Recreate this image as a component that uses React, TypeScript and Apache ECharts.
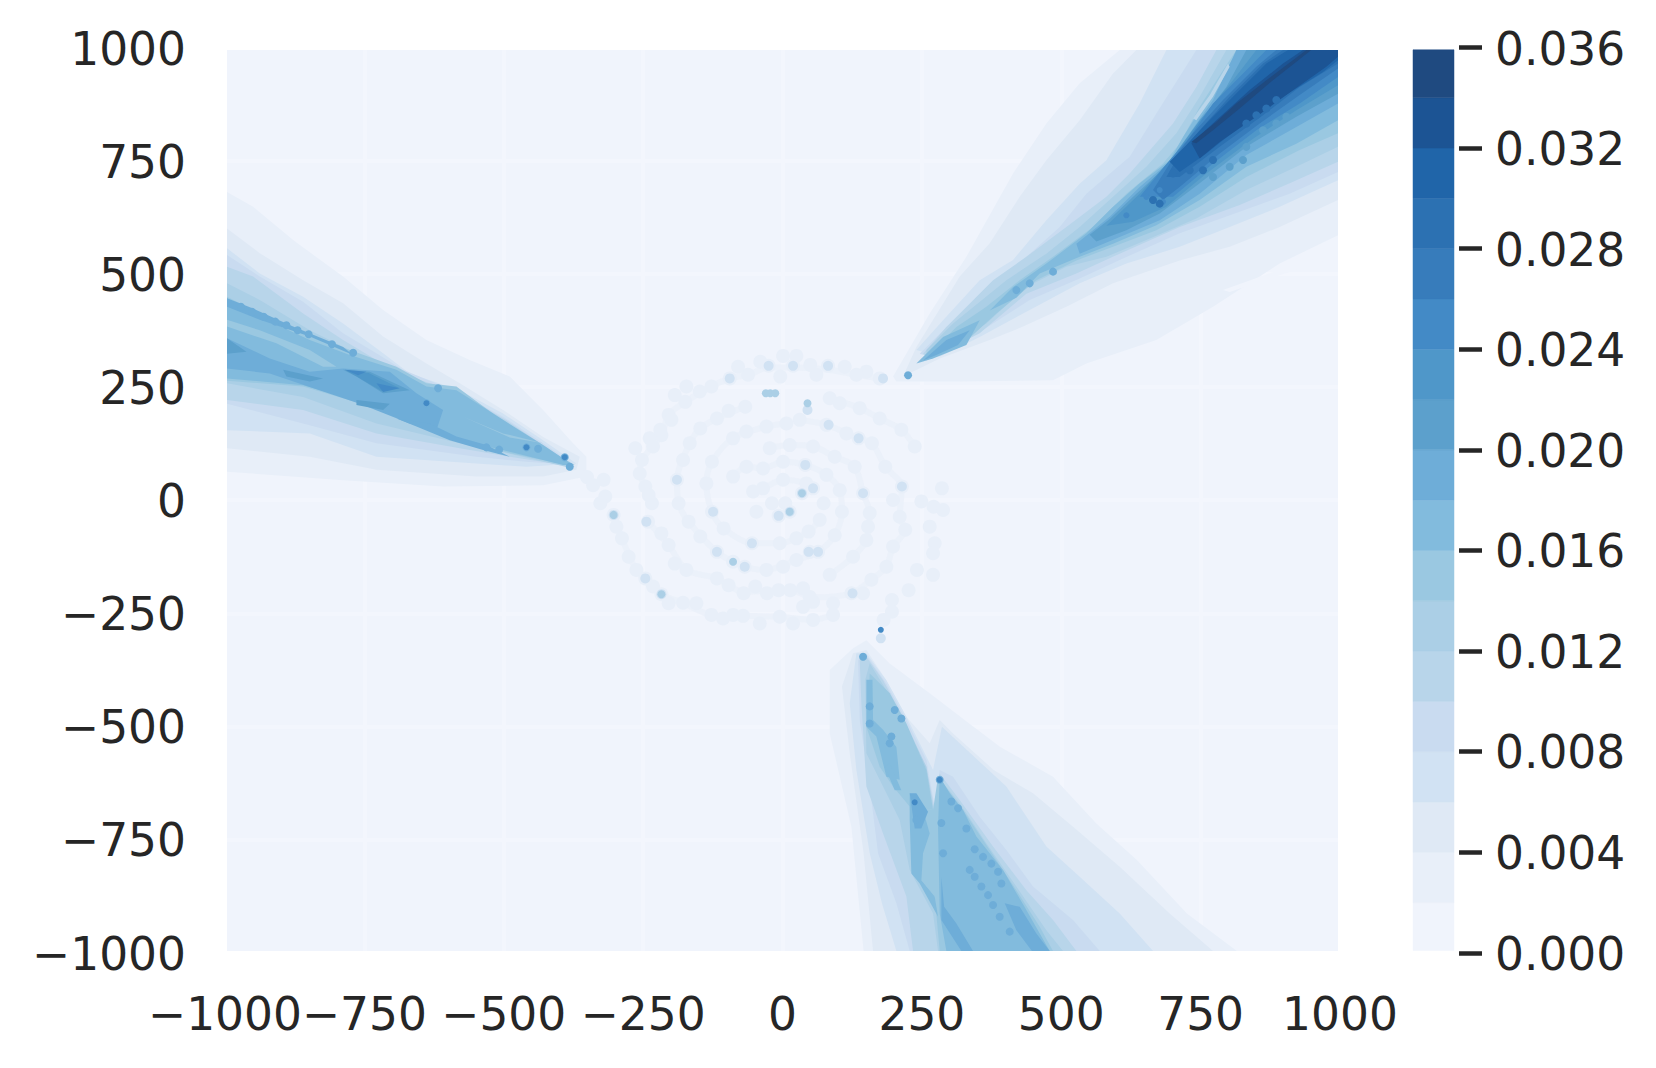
import React, { useEffect, useRef } from "react";
import * as echarts from "echarts";

type Pt = [number, number];

const axisTicks = [-1000, -750, -500, -250, 0, 250, 500, 750, 1000];
const barTicks = [0, 0.004, 0.008, 0.012, 0.016, 0.02, 0.024, 0.028, 0.032, 0.036];
const barEdges = [0.0001, 0.002, 0.004, 0.006, 0.008, 0.01, 0.012, 0.014, 0.016, 0.018, 0.02, 0.022, 0.024, 0.026, 0.028, 0.03, 0.032, 0.034, 0.0359];
const levelColors = ["#f0f4fc", "#e8eff9", "#dfe9f5", "#d1e2f3", "#c9dbf0", "#b8d5ea", "#abcfe6", "#9ac8e1", "#82bbdd", "#6eadd8", "#5ca0cc", "#4f97c9", "#438ac6", "#377cbb", "#2c71b2", "#2065a9", "#1c5494", "#1f4a80"];

// contour regions, value units of the two axes; each list is "value above that level"
const band1: Pt[][] = [
  [[199,275],[265,415],[331,541],[415,726],[475,837],[535,926],[607,1000],[1000,1000],[1000,589],[895,526],[775,430],[673,356],[547,304],[487,267],[319,264],[205,264]],
  [[-1000,685],[-953,652],[-881,578],[-791,497],[-719,423],[-641,356],[-563,312],[-491,275],[-431,201],[-377,127],[-353,97],[-353,53],[-431,34],[-611,31],[-791,45],[-1000,64]],
  [[146,-1000],[818,-1000],[728,-917],[638,-798],[565,-717],[487,-613],[392,-547],[332,-491],[265,-428],[193,-362],[151,-310],[127,-328],[85,-376],[85,-517],[124,-724]],
];
const gap0: Pt[][] = [
  [[793,467],[895,512],[1000,552],[1000,541],[895,500],[805,463]],
];
const band2: Pt[][] = [
  [[241,341],[319,497],[373,571],[427,674],[475,755],[535,844],[595,948],[637,1000],[1000,1000],[1000,667],[895,607],[805,563],[715,533],[595,482],[511,430],[433,386],[373,356],[283,315],[217,275]],
  [[-1000,604],[-941,549],[-863,489],[-791,438],[-719,364],[-641,304],[-581,260],[-503,201],[-431,141],[-365,97],[-371,68],[-431,53],[-551,53],[-731,68],[-851,97],[-1000,116]],
  [[127,-339],[107,-413],[121,-561],[146,-783],[163,-1000],[775,-1000],[697,-917],[607,-813],[523,-724],[451,-650],[380,-598],[307,-517],[283,-487],[265,-539],[223,-480],[187,-399],[151,-332]],
];
const band3: Pt[][] = [
  [[241,334],[289,400],[355,489],[415,534],[475,622],[535,703],[583,755],[643,881],[691,1000],[1000,1000],[1000,711],[895,652],[805,607],[715,563],[619,526],[535,482],[445,423],[355,363],[283,319]],
  [[-1000,560],[-941,504],[-863,452],[-791,393],[-719,327],[-671,282],[-581,245],[-503,193],[-431,134],[-371,82],[-461,75],[-551,82],[-731,97],[-851,149],[-1000,156]],
  [[133,-339],[121,-450],[133,-598],[157,-783],[179,-894],[205,-1000],[667,-1000],[607,-917],[535,-835],[475,-768],[403,-635],[319,-539],[287,-502],[271,-598],[247,-539],[223,-480],[187,-399],[151,-339]],
];
const band4: Pt[][] = [
  [[247,326],[295,385],[379,474],[433,534],[499,607],[547,681],[625,763],[673,859],[715,941],[745,1000],[1000,1000],[1000,729],[913,681],[823,641],[715,593],[607,534],[535,493],[445,445],[355,374],[265,319]],
  [[-1000,545],[-941,497],[-863,441],[-791,371],[-731,327],[-683,290],[-581,238],[-503,186],[-431,127],[-374,79],[-461,86],[-551,97],[-731,127],[-863,171],[-1000,215]],
  [[571,-1000],[523,-931],[451,-857],[403,-776],[355,-702],[307,-613],[283,-598],[274,-680],[259,-576],[223,-487],[187,-406],[151,-343],[136,-354],[139,-487],[157,-635],[172,-783],[205,-894],[229,-1000]],
];
const band5: Pt[][] = [
  [[253,326],[295,385],[379,489],[439,541],[511,607],[583,674],[625,726],[703,837],[745,918],[781,1000],[1000,1000],[1000,752],[913,704],[823,656],[715,607],[607,548],[529,504],[439,459],[355,371],[265,315]],
  [[-1000,519],[-953,497],[-863,415],[-791,356],[-731,312],[-671,275],[-581,238],[-497,178],[-431,123],[-374,75],[-491,97],[-581,116],[-731,149],[-863,201],[-1000,223]],
  [[151,-347],[181,-399],[217,-480],[259,-591],[274,-687],[283,-606],[319,-665],[379,-768],[439,-865],[487,-931],[529,-1000],[235,-1000],[223,-879],[181,-739],[151,-635],[142,-450],[139,-354]],
];
const band6: Pt[][] = [
  [[259,334],[307,393],[403,489],[475,548],[535,607],[595,674],[655,741],[709,815],[751,896],[799,1000],[1000,1000],[1000,785],[925,741],[835,689],[745,626],[655,578],[583,541],[511,519],[439,474],[367,393],[295,341],[259,311]],
  [[-1000,482],[-941,445],[-851,378],[-779,334],[-707,297],[-659,260],[-581,230],[-497,171],[-431,116],[-377,71],[-491,104],[-581,127],[-731,171],[-863,230],[-1000,260]],
  [[157,-361],[187,-421],[217,-487],[259,-591],[274,-702],[280,-613],[319,-672],[367,-761],[421,-857],[475,-954],[505,-1000],[280,-1000],[271,-917],[229,-820],[211,-709],[175,-620],[151,-561],[149,-398]],
];
const band7: Pt[][] = [
  [[271,334],[313,385],[367,430],[427,489],[487,541],[559,607],[619,681],[685,748],[715,792],[751,874],[793,955],[817,1000],[1000,1000],[1000,815],[931,778],[835,718],[751,652],[673,600],[595,563],[529,533],[457,489],[385,415],[319,341],[259,315]],
  [[-1000,452],[-941,415],[-851,364],[-779,334],[-695,297],[-641,260],[-587,253],[-497,171],[-431,119],[-374,79],[-401,82],[-491,105],[-581,134],[-671,175],[-761,216],[-863,253],[-1000,266]],
  [[157,-384],[193,-428],[223,-495],[259,-598],[271,-687],[229,-679],[199,-635],[175,-591],[151,-502]],
  [[280,-613],[325,-687],[373,-776],[421,-865],[463,-946],[487,-1000],[283,-1000],[274,-879],[235,-820],[229,-679],[271,-687]],
];
const band8: Pt[][] = [
  [[373,422],[415,474],[475,526],[547,593],[595,652],[643,704],[697,755],[721,807],[763,889],[817,992],[820,1000],[1000,1000],[1000,844],[925,792],[835,741],[751,667],[673,611],[595,570],[535,541],[463,504],[421,450]],
  [[241,304],[289,363],[355,400],[331,345],[271,315]],
  [[-1000,449],[-941,408],[-851,356],[-779,323],[-695,290],[-641,253],[-587,245],[-503,179],[-431,123],[-377,79],[-395,79],[-491,108],[-593,138],[-671,179],[-761,219],[-863,256],[-1000,271]],
  [[283,-613],[301,-650],[325,-687],[349,-746],[397,-820],[439,-909],[481,-1000],[295,-1000],[283,-917],[280,-724]],
  [[229,-650],[253,-687],[265,-739],[253,-783],[250,-843],[274,-879],[280,-924],[247,-850],[232,-828],[229,-709]],
  [[151,-398],[162,-398],[163,-487],[181,-509],[205,-547],[211,-620],[187,-613],[169,-524],[151,-502]],
  [[193,-583],[214,-643],[202,-643],[184,-591]],
];
const gap7: Pt[][] = [
  [[-1000,401],[-941,378],[-851,334],[-803,297],[-827,297],[-911,349],[-1000,386]],
  [[-575,186],[-503,149],[-431,127],[-491,140]],
];
const band9: Pt[][] = [
  [[529,570],[589,630],[643,696],[697,752],[733,815],[775,889],[817,1000],[1000,1000],[1000,881],[925,829],[835,767],[751,681],[679,622],[607,585],[535,548]],
  [[253,311],[295,356],[337,378],[316,345],[277,323]],
  [[-1000,360],[-923,315],[-851,286],[-791,293],[-707,286],[-659,238],[-611,201],[-623,156],[-671,171],[-761,215],[-851,252],[-923,282],[-1000,293]],
  [[-695,182],[-635,171],[-587,142],[-533,123],[-491,97],[-539,112],[-599,134],[-659,164]],
  [[-1000,449],[-953,426],[-881,386],[-791,341],[-773,323],[-851,364],[-941,401],[-1000,430]],
  [[400,-894],[427,-902],[457,-961],[481,-1000],[449,-1000],[421,-954]],
  [[286,-835],[291,-902],[313,-939],[343,-1000],[322,-1000],[286,-931]],
  [[229,-650],[241,-650],[262,-691],[250,-728],[238,-728]],
];
const band10: Pt[][] = [
  [[553,590],[589,625],[637,681],[703,755],[745,830],[799,918],[835,1000],[1000,1000],[1000,903],[925,852],[835,785],[751,704],[679,637],[619,600],[565,575]],
  [[-1000,360],[-965,330],[-1000,326]],
  [[-899,290],[-827,271],[-851,264],[-893,275]],
  [[-791,290],[-743,286],[-671,245],[-719,238],[-767,275]],
  [[-767,223],[-707,215],[-719,201],[-767,212]],
];
const gap5: Pt[][] = [
  [[745,844],[775,896],[805,963],[802,970],[769,900],[739,848]],
];
const band11: Pt[][] = [
  [[583,610],[643,681],[703,763],[751,844],[811,933],[853,1000],[1000,1000],[1000,922],[925,866],[847,803],[763,726],[691,652],[631,619]],
  [[-785,288],[-745,283],[-690,250],[-722,243],[-765,274]],
];
const band12: Pt[][] = [
  [[643,674],[697,755],[733,807],[775,881],[835,955],[871,1000],[1000,1000],[1000,940],[931,881],[853,822],[775,748],[703,674]],
  [[-788,290],[-749,286],[-764,278]],
  [[-731,260],[-689,249],[-719,241]],
];
const band13: Pt[][] = [
  [[667,689],[697,748],[739,815],[793,889],[853,963],[889,1000],[1000,1000],[1000,959],[931,900],[859,837],[787,770],[715,696],[685,667]],
];
const band14: Pt[][] = [
  [[691,718],[715,770],[751,822],[805,896],[865,970],[901,1000],[1000,1000],[1000,970],[931,918],[865,855],[787,785],[715,718]],
];
const band15: Pt[][] = [
  [[697,752],[727,789],[763,837],[811,896],[871,970],[910,1000],[1000,1000],[1000,977],[973,951],[895,892],[823,829],[763,770],[715,729]],
];
const band16: Pt[][] = [
  [[736,793],[781,844],[841,911],[901,970],[937,1000],[1000,1000],[1000,985],[979,963],[907,900],[853,852],[787,796],[751,759]],
];
const band17: Pt[][] = [
  [[736,796],[781,841],[817,881],[871,933],[943,1000],[952,1000],[883,933],[823,870],[775,822],[745,793]],
];

// the spiral's arms
const arms: Pt[][] = [
  [[175,271],[133,279],[82,290],[19,295],[-25,295],[-62,279],[-95,271],[-128,253],[-175,219],[-205,190],[-218,145],[-253,90],[-257,60],[-247,31],[-235,-6]],
  [[31,179],[79,168],[137,138],[161,127],[185,75],[215,31],[211,-36],[221,-65],[199,-102],[187,-147],[160,-176],[124,-206],[55,-215],[14,-199],[-28,-200],[-70,-203],[-118,-173],[-173,-154],[-205,-99],[-242,-47]],
  [[-67,208],[-118,182],[-148,160],[-167,127],[-190,46],[-187,-6],[-169,-47],[-118,-114],[-68,-147],[-29,-154],[25,-132],[64,-114],[94,-77],[107,-25],[103,23],[79,57],[41,79],[1,86],[-35,71],[-65,75],[-89,53]],
  [[7,171],[-29,164],[-89,138],[-127,86],[-137,38],[-127,-25],[-106,-62],[-55,-95],[-5,-95],[47,-69],[67,-43]],
  [[-23,116],[13,123],[55,120],[94,97],[130,75],[145,16],[157,-28],[151,-88],[127,-125],[85,-165]],
  [[-304,-32],[-289,-84],[-263,-154],[-218,-208],[-179,-227],[-128,-254],[-71,-256],[-5,-258],[55,-265],[91,-254]],
  [[85,227],[139,205],[175,182],[214,157],[238,120]],
  [[-53,20],[-35,27],[1,46],[43,38],[55,27]],
];

// small speckles
const spiralFaint: Pt[] = [
  [175,271],[151,286],[133,279],[112,297],[82,299],[61,279],[50,301],[19,299],[-4,275],[-25,299],[-40,308],[1,321],[25,321],[-62,279],[-80,297],[-95,271],[-128,253],[-149,242],[-175,219],[-173,253],[-194,234],[-205,190],[-218,145],[-239,138],[-233,120],[-265,116],[-253,90],[-257,60],[-247,31],[-241,12],[-235,-6],[-200,179],[-220,157],
  [31,179],[79,168],[115,149],[137,138],[161,127],[185,75],[215,31],[199,1],[211,-36],[221,-65],[199,-102],[187,-147],[160,-176],[145,-206],[124,-206],[91,-228],[55,-225],[37,-236],[49,-214],[14,-199],[37,-195],[-7,-199],[-28,-206],[-49,-191],[-70,-206],[-97,-188],[-118,-173],[-173,-154],[-194,-140],[-205,-99],[-218,-73],[-242,-47],
  [-67,208],[-97,199],[-118,182],[-148,160],[-167,127],[-179,90],[-190,46],[-187,-6],[-169,-47],[-148,-80],[-118,-114],[-89,-136],[-68,-147],[-29,-154],[1,-147],[25,-132],[49,-114],[64,-114],[94,-77],[107,-25],[74,-6],[85,227],[103,216],[139,205],[175,182],[214,157],[238,120],[-89,138],[-65,153],[-29,164],[7,171],[-127,86],[-137,38],[-127,-25],[-106,-62],[-55,-95],[-5,-95],[25,-84],[47,-69],[67,-43],[-23,116],[13,123],[55,120],[94,97],[130,75],[145,16],[157,-28],[154,-58],[151,-88],[127,-125],[85,-165],
  [-89,53],[-65,75],[-35,71],[1,86],[41,79],[79,57],[103,23],[-47,-25],[-53,20],[-35,27],[1,46],[43,38],[55,27],[35,16],[-19,-6],[5,-6],[13,-25],[-7,-34],
  [-322,46],[-319,9],[-304,-32],[-299,-58],[-289,-84],[-277,-125],[-263,-154],[-247,-173],[-233,-191],[-218,-208],[-205,-228],[-179,-227],[-155,-228],[-128,-254],[-107,-262],[-71,-256],[-89,-254],[-41,-273],[-5,-258],[19,-273],[55,-265],[91,-254],
  [250,-2],[272,-14],[287,27],[289,-21],[265,-58],[274,-95],[271,-117],[242,-154],[271,-165],[227,-199],[197,-221],[197,-247],[182,-265],
  [-352,52],[-341,34],[-328,-6],
];
const spiralMid: Pt[] = [
  [-304,-32],[-245,-47],[-247,-173],[-218,-208],[-125,-25],[-118,-114],[-55,-95],[13,-25],[35,16],[145,16],[215,31],[126,-206],[-25,299],[19,299],[82,299],[-95,271],[137,138],[83,168],[55,27],[-7,-34],[-190,46],[47,-114],[64,-114],[-68,-147],[41,79],[45,201],[177,-306],[181,271],
];
const spiralStrong: Pt[] = [[-89,-136],[13,-25],[-304,-32],[35,16],[-218,-208],[-22,238],[-13,238],[-30,238],[45,216]];
const speckL9: Pt[] = [
  [226,278],[421,467],[445,482],[487,508],
  [-975,430],[-955,419],[-934,408],[-913,397],[-893,389],[-873,378],[-853,369],[-811,347],[-773,328],
  [-641,216],[-533,118],[-510,113],[-461,118],[-440,115],[-392,96],[-383,75],[-620,249],
  [283,-620],[304,-668],[316,-683],[331,-728],[346,-774],[361,-791],[376,-806],[388,-824],[394,-850],
  [337,-820],[346,-835],[358,-857],[370,-876],[379,-898],[391,-924],[409,-957],
  [289,-783],[286,-716],[241,-709],[157,-495],[157,-457],[193,-539],[196,-524],[214,-484],[202,-465],[145,-347],
];
const speckL12: Pt[] = [[619,633],[655,674],[679,689],[685,663],[-461,118],[-392,96],[-641,216],[177,-287],[238,-670],[283,-620]];
const speckCoreDark: Pt[] = [[889,889],[871,870],[853,855],[835,837],[775,756],[757,733],[733,733],[703,726],[667,667],[679,659]];
const speckCoreMid: Pt[] = [[907,852],[889,837],[865,822],[835,785],[829,756],[805,741],[775,718]];

const bandOrder: [number, Pt[][]][] = [[1, band1], [0, gap0], [2, band2], [3, band3], [4, band4], [5, band5], [6, band6], [7, band7], [8, band8], [7, gap7], [9, band9], [10, band10], [5, gap5], [11, band11], [12, band12], [13, band13], [14, band14], [15, band15], [16, band16], [17, band17]];

const minusLabel = (v: number) => String(v).replace("-", "\u2212");
const textStyle = { color: "#262626", fontFamily: "DejaVu Sans", fontSize: 45.5 };

export default function App() {
  const ref = useRef<HTMLDivElement>(null);
  useEffect(() => {
    if (!ref.current) return;
    const chart = echarts.init(ref.current, undefined, { renderer: "svg" });
    const flat: { level: number; pts: Pt[] }[] = [];
    bandOrder.forEach(([level, polys]) => polys.forEach((pts) => flat.push({ level, pts })));
    const speck = (data: Pt[], level: number, size: number, z: number) => ({
      type: "scatter", xAxisIndex: 0, yAxisIndex: 0, data, symbolSize: size, silent: true, z,
      itemStyle: { color: levelColors[level], opacity: 1 },
    });
    const armLines = arms.map((data) => ({
      type: "line", xAxisIndex: 0, yAxisIndex: 0, data, smooth: 0.3, showSymbol: false, symbol: "none", silent: true, z: 3,
      lineStyle: { color: levelColors[1], width: 6, opacity: 0.6 },
    }));
    const hidden = (gridIndex: number) => ({ type: "value", gridIndex, min: axisTicks[0], max: axisTicks[8], show: false });
    const quiet = { axisLine: { show: false, onZero: false }, axisTick: { show: false } };
    const faintLines = { show: true, showMinLine: false, showMaxLine: false, lineStyle: { color: "#f3f6fd", width: 4 } };
    chart.setOption({
      animation: false,
      grid: [
        { left: 227, top: 50, width: 1111, height: 901, show: true, backgroundColor: levelColors[0], borderWidth: 0 },
        { left: 1413, top: 47.3, width: 41, height: 905.7, show: false },
        { left: 225, top: 50, width: 1115, height: 901, show: false },
        { left: 227, top: 47.3, width: 1111, height: 905.7, show: false },
        { left: 225, top: 49.4, width: 1115, height: 904.6, show: false },
        { left: 1413, top: 49.4, width: 41, height: 904.6, show: false },
      ],
      xAxis: [
        hidden(0),
        { type: "value", gridIndex: 1, min: 0, max: 1, show: false },
        { type: "value", gridIndex: 2, min: axisTicks[0], max: axisTicks[8], interval: 250, ...quiet, splitLine: faintLines, axisLabel: { ...textStyle, margin: 40, formatter: minusLabel } },
        hidden(3),
        hidden(4),
        hidden(5),
      ],
      yAxis: [
        hidden(0),
        { type: "value", gridIndex: 1, position: "right", offset: 5, min: barTicks[0], max: barTicks[9], interval: 0.004, axisLine: { show: false, onZero: false }, axisTick: { show: true, length: 23, lineStyle: { color: "#262626", width: 4.5 } }, splitLine: { show: false }, axisLabel: { show: false } },
        hidden(2),
        { type: "value", gridIndex: 3, min: axisTicks[0], max: axisTicks[8], interval: 250, ...quiet, splitLine: faintLines, axisLabel: { show: false } },
        { type: "value", gridIndex: 4, min: axisTicks[0], max: axisTicks[8], interval: 250, ...quiet, splitLine: { show: false }, axisLabel: { ...textStyle, margin: 39, formatter: minusLabel } },
        { type: "value", gridIndex: 5, position: "right", offset: 5, min: barTicks[0], max: barTicks[9], interval: 0.004, ...quiet, splitLine: { show: false }, axisLabel: { ...textStyle, margin: 36, formatter: (v: number) => v.toFixed(3) } },
      ],
      series: [
        {
          type: "custom", xAxisIndex: 0, yAxisIndex: 0, silent: true, clip: true, z: 2,
          data: flat.map((_, i) => [i]),
          renderItem: (_p: any, api: any) => {
            const item = flat[api.value(0)];
            return { type: "polygon", shape: { points: item.pts.map((p) => api.coord(p)) }, style: { fill: levelColors[item.level] } };
          },
        },
        ...armLines,
        speck(spiralFaint, 1, 14, 3),
        speck(spiralMid, 3, 10, 4),
        speck(spiralStrong, 6, 8, 5),
        speck(speckL9, 9, 8, 6),
        speck(speckL12, 12, 6, 7),
        speck(speckCoreMid, 10, 8, 8),
        speck(speckCoreDark, 14, 8, 8),
        {
          type: "custom", xAxisIndex: 1, yAxisIndex: 1, silent: true, clip: false, z: 2,
          data: barEdges.slice(0, -1).map((lo, i) => [lo, barEdges[i + 1], i]),
          renderItem: (_p: any, api: any) => {
            const a = api.coord([0, api.value(0)]);
            const b = api.coord([1, api.value(1)]);
            return { type: "rect", shape: { x: a[0], y: b[1], width: b[0] - a[0], height: a[1] - b[1] }, style: { fill: levelColors[api.value(2)], stroke: levelColors[api.value(2)], lineWidth: 0.5 } };
          },
        },
      ],
    });
    return () => chart.dispose();
  }, []);
  return <div ref={ref} style={{ position: "fixed", left: 0, top: 0, width: 1656, height: 1068, background: "#fff" }} />;
}
